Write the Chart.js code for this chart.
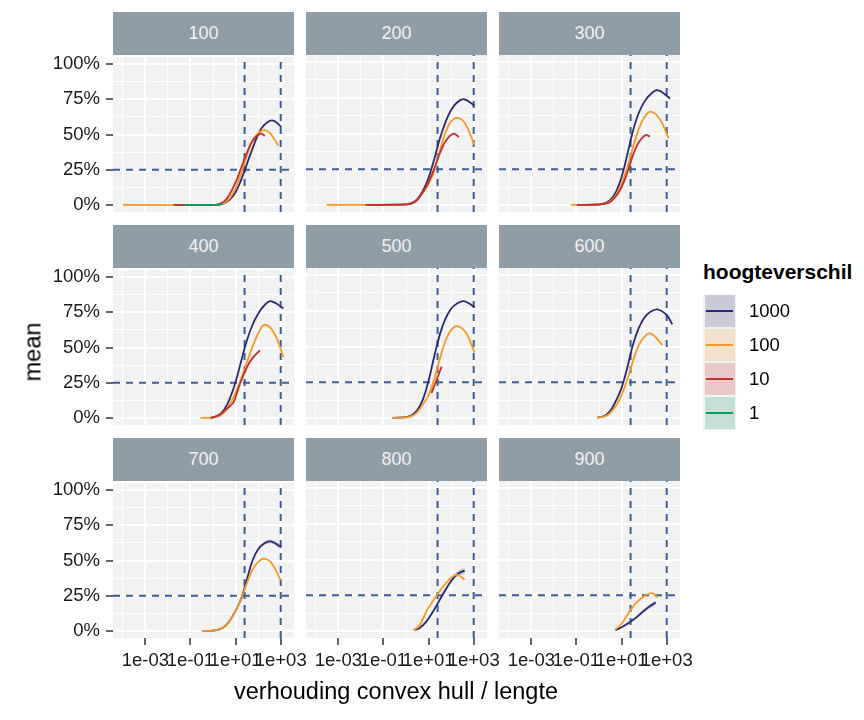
<!DOCTYPE html>
<html>
<head>
<meta charset="utf-8">
<script src="https://cdn.jsdelivr.net/npm/chart.js@4.4.1/dist/chart.umd.min.js"></script>
<style>
  body { margin: 0; background: #fff; font-family: "Liberation Sans", Arial, sans-serif; }
  #wrap { position: relative; width: 864px; height: 720px; overflow: hidden; }
  canvas { position: absolute; }
  .strip { position: absolute; background: #8F9DA7; color: #F2F2F2; font-size: 18px;
           display: flex; align-items: center; justify-content: center; }
  .title { position: absolute; color: #000; font-size: 23.5px; white-space: nowrap; }
  #legend { position: absolute; left: 703px; top: 260px; }
  #legend .lt { font-weight: bold; font-size: 21px; margin-bottom: 10px; }
  .key { position: relative; width: 33px; height: 34px; background: #F2F2F2; }
  .key .fillbox { position: absolute; left: 2px; top: 1px; width: 30px; height: 32px; }
  .key .ln { position: absolute; left: 3px; right: 3px; top: 16px; height: 2px; }
  .key .lab { position: absolute; left: 46px; top: 6px; font-size: 18.5px; }
</style>
</head>
<body>
<div id="wrap"></div>
<script>
// facets (lengte) and colour groups (hoogteverschil)
const panels = ['100', '200', '300', '400', '500', '600', '700', '800', '900'];
const groups = ['1000', '100', '10', '1'];
const groupColors = ['#2A2A70', '#F39A25', '#C2302A', '#0B9D5C'];
const groupFills = ['#CACAD8', '#F2E0C9', '#E8C8C8', '#C3E1D4'];

// axis ticks (x in log10 units)
const xMajorExp = [-3, -1, 1, 3];
const xMinorExp = [-4, -2, 0, 2];
const xLabels = ['1e-03', '1e-01', '1e+01', '1e+03'];
const yMajor = [0, 25, 50, 75, 100];
const yMinor = [12.5, 37.5, 62.5, 87.5];
const yLabels = ['0%', '25%', '50%', '75%', '100%'];

// reference lines
const refX = [25, 1000];
const refY = [25];

// smoothed mean curves, x = log10(verhouding), y = mean in %
const x_100_1000 = [-1.75, 0, 0.25, 0.5, 0.75, 1, 1.25, 1.5, 1.75, 2, 2.25, 2.63, 3.03];
const y_100_1000 = [0, 0, 0.3, 1.2, 4, 9, 18, 29, 40, 50, 56.5, 60, 55.5];
const x_100_100 = [-4, 0, 0.25, 0.5, 0.75, 1, 1.25, 1.5, 1.75, 2, 2.26, 2.5, 2.9];
const y_100_100 = [0, 0, 0.4, 1.5, 5, 12, 22.5, 35, 45.5, 51, 53.1, 51.5, 42];
const x_100_10 = [-1.75, 0, 0.25, 0.5, 0.75, 1, 1.25, 1.5, 1.75, 2.11, 2.3];
const y_100_10 = [0, 0, 0.5, 2.5, 8, 16, 26.5, 37, 45.5, 50.6, 49];
const x_100_1 = [-1.3, 0, 0.25, 0.41];
const y_100_1 = [0, 0, 0.2, 0.6];

const x_200_1000 = [-1.75, 0, 0.25, 0.5, 0.75, 1, 1.25, 1.5, 1.75, 2, 2.25, 2.57, 3.04];
const y_200_1000 = [0, 0.3, 1.2, 4, 10, 19, 32, 46.5, 58, 66.5, 71.5, 74, 69.5];
const x_200_100 = [-3.53, 0, 0.25, 0.5, 0.75, 1, 1.25, 1.5, 1.75, 2, 2.27, 2.6, 3.04];
const y_200_100 = [0, 0.3, 1, 3.5, 8.5, 14.5, 24, 38, 51, 58.5, 61, 57.5, 42];
const x_200_10 = [-1.8, 0, 0.25, 0.5, 0.75, 1, 1.25, 1.5, 1.75, 2.1, 2.35];
const y_200_10 = [0, 0.3, 1, 3.5, 9, 16, 25.5, 36, 44.5, 49.9, 47.5];

const x_300_1000 = [-1, 0, 0.25, 0.5, 0.75, 1, 1.25, 1.5, 1.75, 2, 2.25, 2.59, 3.15];
const y_300_1000 = [0, 0.3, 1.2, 3.5, 9, 19.5, 35, 51.5, 64, 72, 77, 80.4, 74.6];
const x_300_100 = [-1.24, 0, 0.25, 0.5, 0.75, 1, 1.25, 1.5, 1.75, 2, 2.29, 2.7, 3.08];
const y_300_100 = [0, 0.3, 1, 2.5, 7, 15, 26, 40, 52.5, 61, 65.3, 60, 46.6];
const x_300_10 = [-0.97, 0, 0.25, 0.5, 0.75, 1, 1.25, 1.5, 1.75, 2.07, 2.26];
const y_300_10 = [0, 0.2, 0.8, 2, 6, 12.5, 22.5, 34.5, 43.5, 49, 47.8];

const x_400_1000 = [-0.1, 0.25, 0.5, 0.75, 1, 1.25, 1.5, 1.75, 2, 2.25, 2.56, 3.12];
const y_400_1000 = [0, 2, 6, 14, 25.5, 40.5, 55, 66, 74, 79.5, 83, 77.8];
const x_400_100 = [-0.56, 0, 0.25, 0.5, 0.75, 1, 1.25, 1.5, 1.75, 2, 2.29, 2.7, 3.12];
const y_400_100 = [0, 0.3, 1.2, 4, 10, 18, 28, 39.5, 50.5, 60, 66.2, 60.5, 43.4];
const x_400_10 = [-0.11, 0.25, 0.5, 0.75, 0.92, 1.19, 1.5, 1.75, 2.08];
const y_400_10 = [0, 2, 5, 8.5, 11.5, 24, 36, 42.5, 48];

const x_500_1000 = [-0.61, 0, 0.25, 0.5, 0.75, 1, 1.25, 1.5, 1.75, 2, 2.25, 2.57, 3.04];
const y_500_1000 = [0, 0.5, 1.8, 5.5, 13, 26, 43, 58.5, 69.5, 76.5, 80, 81.8, 77.6];
const x_500_100 = [-0.61, 0, 0.25, 0.5, 0.75, 1, 1.25, 1.5, 1.75, 2, 2.27, 2.65, 3.04];
const y_500_100 = [0, 0.3, 1.2, 4, 9.5, 16, 27, 41.5, 54, 61.5, 64.3, 59.8, 45.9];
const x_500_10 = [1.13, 1.35, 1.58];
const y_500_10 = [17.3, 26.5, 35.9];

const x_600_1000 = [-0.08, 0.25, 0.5, 0.75, 1, 1.25, 1.5, 1.75, 2, 2.25, 2.59, 3, 3.25];
const y_600_1000 = [0, 1.5, 5, 12, 21, 35, 51, 62.5, 70, 74, 76, 72, 65.5];
const x_600_100 = [-0.08, 0.25, 0.5, 0.75, 1, 1.25, 1.5, 1.75, 2, 2.29, 2.81];
const y_600_100 = [0, 1, 3.5, 8.5, 16, 26.5, 39.5, 50.5, 56.5, 59.2, 51];

const x_700_1000 = [-0.48, 0, 0.25, 0.5, 0.75, 1, 1.25, 1.5, 1.75, 2, 2.25, 2.56, 3.03];
const y_700_1000 = [0, 0.3, 1, 3, 7.5, 14.5, 23, 36.5, 50, 58, 62, 63.6, 59.4];
const se_700_1000 = [0, 0.2, 0.3, 0.4, 0.5, 0.6, 0.7, 0.8, 0.9, 1.0, 1.2, 1.4, 1.8];
const x_700_100 = [-0.48, 0, 0.25, 0.5, 0.75, 1, 1.25, 1.5, 1.75, 2, 2.26, 2.6, 3];
const y_700_100 = [0, 0.3, 1, 3, 7.5, 14.5, 23, 34, 43.5, 49, 51.3, 48.1, 36];

const x_800_1000 = [0.35, 0.6, 0.9, 1.24, 1.61, 2, 2.3, 2.6];
const y_800_1000 = [0.5, 2, 6.5, 14.7, 25, 35, 40, 42.2];
const se_800_1000 = [0.4, 0.5, 0.6, 0.8, 1, 1.3, 1.7, 2.4];
const x_800_100 = [0.35, 0.6, 0.94, 1.39, 1.8, 2.24, 2.6];
const y_800_100 = [0.5, 4, 14.7, 25.5, 34, 39.2, 36];

const x_900_1000 = [0.73, 1, 1.4, 1.7, 2.1, 2.51];
const y_900_1000 = [0.5, 2.5, 6.5, 10, 15.5, 19.8];
const se_900_1000 = [0.4, 0.5, 0.7, 0.9, 1.2, 1.6];
const x_900_100 = [0.73, 1, 1.4, 1.8, 2.32, 2.59];
const y_900_100 = [1, 5, 14.7, 22, 26.4, 23.6];

// panel, group, x, y, se
const curves = [
  ['100', '1000', x_100_1000, y_100_1000], ['100', '100', x_100_100, y_100_100],
  ['100', '10', x_100_10, y_100_10], ['100', '1', x_100_1, y_100_1],
  ['200', '1000', x_200_1000, y_200_1000], ['200', '100', x_200_100, y_200_100],
  ['200', '10', x_200_10, y_200_10],
  ['300', '1000', x_300_1000, y_300_1000], ['300', '100', x_300_100, y_300_100],
  ['300', '10', x_300_10, y_300_10],
  ['400', '1000', x_400_1000, y_400_1000], ['400', '100', x_400_100, y_400_100],
  ['400', '10', x_400_10, y_400_10],
  ['500', '1000', x_500_1000, y_500_1000], ['500', '100', x_500_100, y_500_100],
  ['500', '10', x_500_10, y_500_10],
  ['600', '1000', x_600_1000, y_600_1000], ['600', '100', x_600_100, y_600_100],
  ['700', '1000', x_700_1000, y_700_1000, se_700_1000], ['700', '100', x_700_100, y_700_100],
  ['800', '1000', x_800_1000, y_800_1000, se_800_1000], ['800', '100', x_800_100, y_800_100],
  ['900', '1000', x_900_1000, y_900_1000, se_900_1000], ['900', '100', x_900_100, y_900_100]
];

const FONT = '"Liberation Sans", Arial, sans-serif';
Chart.defaults.font.family = FONT;
Chart.defaults.animation = false;

const colLeft = [113, 306, 499];
const rowTop = [55, 268, 481];
const PW = 181, PH = 157;
const stripH = 43;
const ML = 70, MR = 20, MT = 15, MB = 50;
const X_MIN = Math.pow(10, -4.436), X_MAX = Math.pow(10, 3.59);

const wrap = document.getElementById('wrap');

const panelBg = {
  id: 'panelBg',
  beforeDraw(chart) {
    const { ctx, chartArea: a } = chart;
    ctx.save();
    ctx.fillStyle = '#F2F2F2';
    ctx.fillRect(a.left, a.top, a.width, a.height);
    ctx.restore();
  }
};

const expOf = v => Math.round(Math.log10(v));
const isMajorX = t => t && xMajorExp.includes(expOf(t.value));
const isMajorY = t => t && yMajor.includes(t.value);

function points(xs, ys, off) {
  return xs.map((v, i) => ({ x: Math.pow(10, v), y: ys[i] + (off ? off[i] : 0) }));
}

panels.forEach((p, idx) => {
  const row = Math.floor(idx / 3), col = idx % 3;
  const showY = col === 0, showX = row === 2;

  const strip = document.createElement('div');
  strip.className = 'strip';
  strip.style.left = colLeft[col] + 'px';
  strip.style.top = (rowTop[row] - stripH) + 'px';
  strip.style.width = PW + 'px';
  strip.style.height = stripH + 'px';
  strip.textContent = p;
  wrap.appendChild(strip);

  const cv = document.createElement('canvas');
  cv.width = PW + ML + MR;
  cv.height = PH + MT + MB;
  cv.style.left = (colLeft[col] - ML) + 'px';
  cv.style.top = (rowTop[row] - MT) + 'px';
  wrap.appendChild(cv);

  const datasets = [];
  // draw order: index 0 is painted last (on top) -> groups from '1' up to '1000'
  for (let g = groups.length - 1; g >= 0; g--) {
    const c = curves.find(r => r[0] === p && r[1] === groups[g]);
    if (!c) continue;
    datasets.push({
      data: points(c[2], c[3]),
      borderColor: groupColors[g], borderWidth: 1.8,
      pointRadius: 0, tension: 0.4, fill: false
    });
  }
  curves.filter(r => r[0] === p && r[4]).forEach(c => {
    datasets.push({
      data: points(c[2], c[3], c[4]), borderWidth: 0, pointRadius: 0,
      tension: 0.4, fill: false
    });
    datasets.push({
      data: points(c[2], c[3], c[4].map(s => -s)), borderWidth: 0, pointRadius: 0,
      tension: 0.4, fill: '-1', backgroundColor: 'rgba(42,42,112,0.22)'
    });
  });
  const dash = { borderColor: '#3A5D95', borderWidth: 2, borderDash: [7, 6], pointRadius: 0, fill: false };
  refY.forEach(v => datasets.push(Object.assign({ data: [{ x: X_MIN, y: v }, { x: X_MAX, y: v }] }, dash)));
  refX.forEach(v => datasets.push(Object.assign({ data: [{ x: v, y: -5 }, { x: v, y: 105 }] }, dash)));

  new Chart(cv, {
    type: 'line',
    data: { datasets },
    plugins: [panelBg],
    options: {
      responsive: false,
      events: [],
      layout: { padding: { left: ML - (showY ? 60 : 0), right: MR, top: MT, bottom: MB - (showX ? 40 : 0) } },
      plugins: { legend: { display: false }, tooltip: { enabled: false } },
      scales: {
        x: {
          type: 'logarithmic', min: X_MIN, max: X_MAX,
          afterBuildTicks: s => { s.ticks = xMinorExp.concat(xMajorExp).sort((a, b) => a - b).map(e => ({ value: Math.pow(10, e) })); },
          afterFit: s => { s.height = showX ? 40 : 0; },
          border: { display: false },
          grid: {
            color: '#FFFFFF',
            lineWidth: c => isMajorX(c.tick) ? 2 : 1,
            drawTicks: showX, tickLength: 7, tickWidth: 1.5,
            tickColor: c => isMajorX(c.tick) ? '#333333' : 'rgba(0,0,0,0)'
          },
          ticks: {
            display: showX, padding: 5, color: '#1A1A1A', maxRotation: 0, autoSkip: false,
            font: { size: 18.5 },
            callback: v => { const i = xMajorExp.indexOf(expOf(v)); return i >= 0 ? xLabels[i] : ''; }
          }
        },
        y: {
          type: 'linear', min: -5, max: 105,
          afterBuildTicks: s => { s.ticks = yMajor.concat(yMinor).sort((a, b) => a - b).map(v => ({ value: v })); },
          afterFit: s => { s.width = showY ? 60 : 0; },
          border: { display: false },
          grid: {
            color: '#FFFFFF',
            lineWidth: c => isMajorY(c.tick) ? 2 : 1,
            drawTicks: showY, tickLength: 7, tickWidth: 1.5,
            tickColor: c => isMajorY(c.tick) ? '#333333' : 'rgba(0,0,0,0)'
          },
          ticks: {
            display: showY, padding: 6, color: '#1A1A1A', autoSkip: false,
            font: { size: 18.5 },
            callback: v => { const i = yMajor.indexOf(v); return i >= 0 ? yLabels[i] : ''; }
          }
        }
      }
    }
  });
});

// axis titles
const xt = document.createElement('div');
xt.className = 'title';
xt.textContent = 'verhouding convex hull / lengte';
xt.style.left = '396px'; xt.style.top = '678px';
xt.style.transform = 'translateX(-50%)';
wrap.appendChild(xt);

const yt = document.createElement('div');
yt.className = 'title';
yt.textContent = 'mean';
yt.style.left = '33px'; yt.style.top = '352px';
yt.style.transform = 'translate(-50%, -50%) rotate(-90deg)';
wrap.appendChild(yt);

// legend
const lg = document.createElement('div');
lg.id = 'legend';
lg.innerHTML = '<div class="lt">hoogteverschil</div>';
groups.forEach((g, i) => {
  const k = document.createElement('div');
  k.className = 'key';
  k.innerHTML = '<div class="fillbox" style="background:' + groupFills[i] + '"></div>' +
    '<div class="ln" style="background:' + groupColors[i] + '"></div>' +
    '<div class="lab">' + g + '</div>';
  lg.appendChild(k);
});
wrap.appendChild(lg);
</script>
</body>
</html>
